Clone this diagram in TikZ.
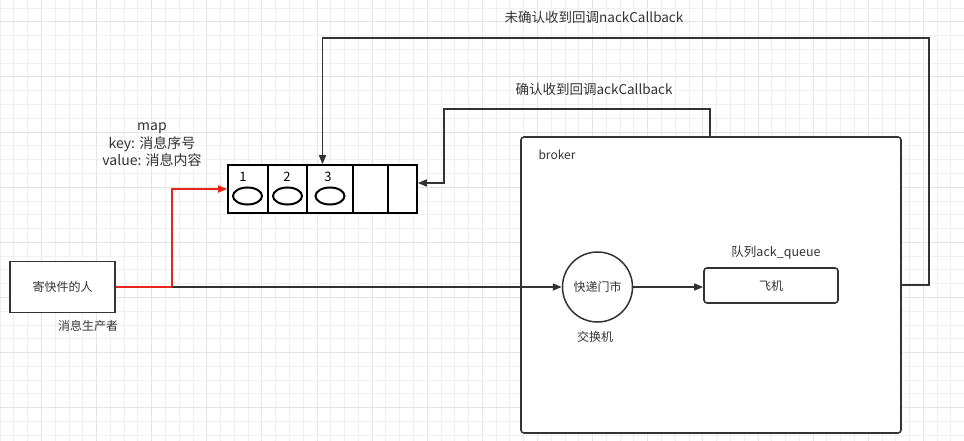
\documentclass[tikz,border=0pt]{standalone}
\usepackage{fontspec}
\setmainfont{Noto Sans CJK SC}
\usetikzlibrary{arrows.meta,shapes.geometric}
\definecolor{ln}{HTML}{333333}
\definecolor{tx}{HTML}{333333}
\definecolor{rd}{HTML}{E8261C}
\definecolor{gmin}{HTML}{F0F0F0}
\definecolor{gmaj}{HTML}{E4E4E4}
\tikzset{
  conn/.style={draw=ln, line width=1.5pt, -{Triangle[length=9pt,width=7pt]}},
  plainline/.style={draw=ln, line width=1.5pt},
  redconn/.style={draw=rd, line width=1.6pt, -{Triangle[length=9pt,width=7pt]}},
  boxstyle/.style={draw=ln, line width=1.6pt, fill=white, inner sep=0pt},
  lbl/.style={text=tx, inner sep=0pt, font=\fontsize{12}{14}\selectfont},
  biglbl/.style={text=tx, inner sep=0pt, font=\fontsize{13.5}{16}\selectfont},
  cell/.style={draw=black, line width=2pt},
  egg/.style={draw=black, line width=2pt, ellipse, minimum width=29pt, minimum height=17pt, inner sep=0pt},
}
\begin{document}
\begin{tikzpicture}[x=1pt,y=-1pt]
\useasboundingbox (0,0) rectangle (964,441);
\fill[white] (0,0) rectangle (964,441);
% faint grid
\foreach \k in {0,...,70} {
  \pgfmathsetmacro\xx{13.78*\k}
  \pgfmathtruncatemacro\mm{mod(\k,4)}
  \ifnum\mm=3 \draw[gmaj, line width=0.8pt] (\xx,0) -- (\xx,441);
  \else \draw[gmin, line width=0.8pt] (\xx,0) -- (\xx,441); \fi
}
\foreach \k in {0,...,32} {
  \pgfmathsetmacro\yy{8+13.78*\k}
  \pgfmathtruncatemacro\mm{mod(\k,4)}
  \ifnum\mm=1 \draw[gmaj, line width=0.8pt] (0,\yy) -- (964,\yy);
  \else \draw[gmin, line width=0.8pt] (0,\yy) -- (964,\yy); \fi
}

% broker container
\node[boxstyle, rounded corners=3pt, minimum width=380pt, minimum height=296pt] (broker) at (711,285) {};
\node[lbl, anchor=center] (brokerlbl) at (557,155) {broker};

% producer
\node[boxstyle, minimum width=105pt, minimum height=51pt] (producer) at (62.5,287) {};
\node[lbl] (producertxt) at (62.5,287) {寄快件的人};
\node[lbl] (producerlbl) at (88,326) {消息生产者};

% map queue
\node[draw=black, line width=1.6pt, fill=white, minimum width=189pt, minimum height=48pt, inner sep=0pt] (queue) at (322.5,189) {};
\draw[cell] (268,165) -- (268,213);
\draw[cell] (307,165) -- (307,213);
\draw[cell] (353,165) -- (353,213);
\draw[cell] (388,165) -- (388,213);
\node[lbl, font=\fontsize{13}{15}\selectfont, text=black] (n1) at (243,177) {1};
\node[lbl, font=\fontsize{13}{15}\selectfont, text=black] (n2) at (287,177) {2};
\node[lbl, font=\fontsize{13}{15}\selectfont, text=black] (n3) at (328,177) {3};
\node[egg] (e1) at (247.5,196) {};
\node[egg] (e2) at (287.5,196) {};
\node[egg] (e3) at (330,196) {};
\node[text=tx, inner sep=0pt, align=center, font=\fontsize{14}{17.5}\selectfont] (maplbl) at (152,145) {map\\key: 消息序号\\value: 消息内容};

% exchange and queue
\node[draw=ln, line width=1.5pt, circle, minimum size=70pt, inner sep=0pt, fill=white] (exch) at (597.5,287) {};
\node[lbl] (exchtxt) at (597.5,287) {快递门市};
\node[lbl] (exchlbl) at (595,337) {交换机};
\node[boxstyle, rounded corners=3pt, minimum width=134pt, minimum height=35pt] (plane) at (771,285.5) {};
\node[lbl] (planetxt) at (771,286) {飞机};
\node[lbl, font=\fontsize{12.5}{14}\selectfont] (planelbl) at (776,253) {队列ack\_queue};

% connectors
\coordinate (split) at (172,287);
\draw[draw=rd, line width=1.6pt] (producer.east) -- (split);
\draw[redconn] (split) |- (queue.west);
\draw[conn] (split) -- (exch.west);
\draw[conn] (exch.east) -- (exch.east -| plane.west);

% nack
\coordinate (nackstart) at (901,285);
\coordinate (nackturn) at (929,38);
\draw[conn] (nackstart) -- (929,285) |- (nackturn) -| (queue.north);
\node[biglbl] (nacklbl) at (594,17) {未确认收到回调nackCallback};

% ack
\coordinate (ackstart) at (710,137);
\coordinate (acktop) at (444,109);
\coordinate (ackin) at (417.8,183);
\draw[conn] (ackstart) |- (acktop) |- (ackin);
\node[biglbl] (acklbl) at (594,89) {确认收到回调ackCallback};
\end{tikzpicture}
\end{document}
